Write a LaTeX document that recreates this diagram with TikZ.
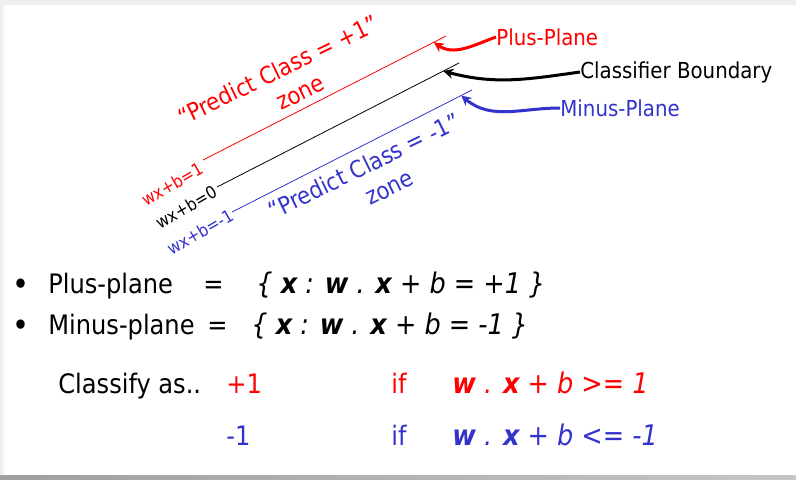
\documentclass[tikz,border=0pt]{standalone}
\usepackage{fontspec}
\setmainfont{DejaVu Sans Condensed}
\usetikzlibrary{arrows.meta}
\definecolor{planered}{RGB}{255,0,0}
\definecolor{planeblue}{RGB}{51,51,204}
\tikzset{
  zonetext/.style={font=\fontsize{11.8}{14}\selectfont, rotate=26, inner sep=0pt},
  eqlabel/.style={font=\fontsize{8.6}{9}\selectfont, rotate=30, inner sep=0pt},
  planelabel/.style={font=\fontsize{11}{13}\selectfont, anchor=west, inner sep=0pt},
  maintext/.style={font=\fontsize{13.4}{15}\selectfont, anchor=base west, inner sep=0pt},
  settext/.style={maintext, font=\fontsize{14.2}{16}\selectfont\itshape},
  dotmark/.style={font=\fontsize{16}{16}\selectfont, inner sep=0pt},
  callout/.style={line width=1.5pt, -{Stealth[length=5pt,width=5pt]}},
}
\begin{document}
\begin{tikzpicture}[x=0.5pt,y=-0.5pt]
\useasboundingbox (0,0) rectangle (796,479);
% frame shadow
\fill[gray!12] (0,0) rectangle (796,5);
\shade[left color=gray!15, right color=white] (0,5) rectangle (5,474);
\shade[left color=gray!75, right color=gray!45] (0,475) rectangle (796,479);

% the three planes
\draw[planered] (203,160) coordinate (r0) -- coordinate[pos=0.95] (ptip) (446,36);
\draw[black] (217,187) coordinate (k0) -- coordinate[pos=0.935] (ctip) (459,63);
\draw[planeblue] (232,212) coordinate (b0) -- coordinate[pos=0.955] (mtip) (472,90);

% labels at the line ends
\node[eqlabel, planered] (eqp) at (172,184) {wx+b=1};
\node[eqlabel, black] (eqc) at (186,207) {wx+b=0};
\node[eqlabel, planeblue] (eqm) at (200,232) {wx+b=-1};

% zones
\node[zonetext, planered] (pzone) at (278,70) {``Predict Class = +1''};
\node[zonetext, planered] (pzone2) at (301,94) {zone};
\node[zonetext, planeblue] (mzone) at (364,166) {``Predict Class = -1''};
\node[zonetext, planeblue] (mzone2) at (390,189) {zone};

% callouts
\node[planelabel, planered] (plus) at (496,37) {Plus-Plane};
\node[planelabel, black] (bound) at (580,72) {Classifier Boundary};
\node[planelabel, planeblue] (minus) at (560,108) {Minus-Plane};
\draw[callout, planered] (plus.west) to[out=200,in=-35] (ptip);
\draw[callout, black] (bound.west) to[out=188,in=-15] (ctip);
\draw[callout, planeblue] (minus.west) to[out=180,in=-40] (mtip);

% definitions
\node[dotmark] (dot1) at (21,287) {\textbullet};
\node[maintext] (pname) at (48,293) {Plus-plane};
\node[maintext] (peq) at (203,293) {=};
\node[settext] (pset) at (256,293) {\{ \textbf{x} : \textbf{w} . \textbf{x} + b = +1 \}};
\node[dotmark] (dot2) at (21,328) {\textbullet};
\node[maintext] (mname) at (48,334) {Minus-plane};
\node[maintext] (meq) at (207,334) {=};
\node[settext] (mset) at (251,334) {\{ \textbf{x} : \textbf{w} . \textbf{x} + b = -1 \}};

% decision rule
\node[maintext] (rule) at (58,393) {Classify as..};
\node[maintext, planered] (cplus) at (226,393) {+1};
\node[maintext, planered] (ifp) at (391,393) {if};
\node[settext, planered] (condp) at (452,393) {\textbf{w} . \textbf{x} + b >= 1};
\node[maintext, planeblue] (cminus) at (226,445) {-1};
\node[maintext, planeblue] (ifm) at (391,445) {if};
\node[settext, planeblue] (condm) at (452,445) {\textbf{w} . \textbf{x} + b <= -1};
\end{tikzpicture}
\end{document}
